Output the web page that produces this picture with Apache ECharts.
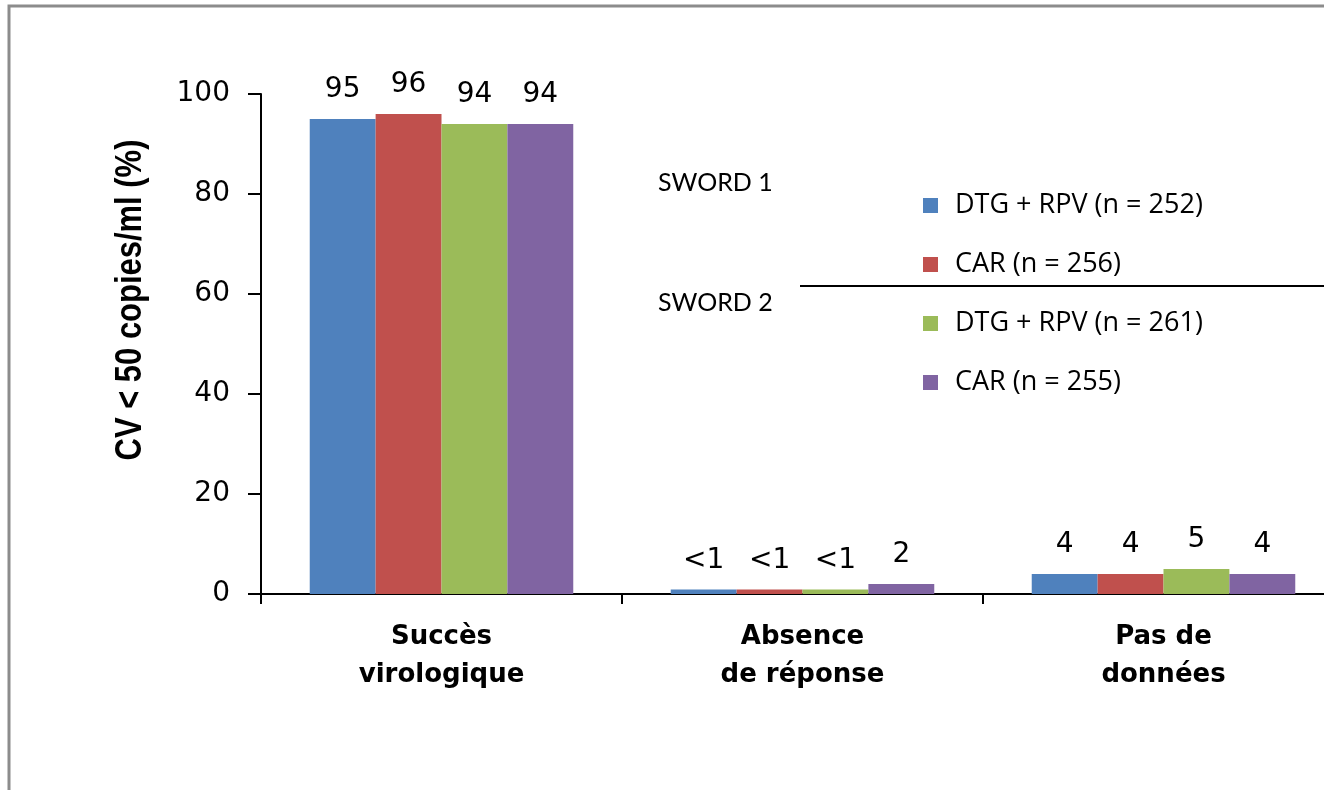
<!DOCTYPE html>
<html>
<head>
<meta charset="utf-8">
<script src="https://cdn.jsdelivr.net/npm/echarts@6/dist/echarts.min.js"></script>
<style>
  html, body { margin: 0; padding: 0; background: #ffffff; overflow: hidden; }
  #chart { width: 1324px; height: 790px; }
</style>
</head>
<body>
<div id="chart"></div>
<script>
// Virological outcomes at week 48, SWORD 1 and SWORD 2
const categories = ['Succès\nvirologique', 'Absence\nde réponse', 'Pas de\ndonnées'];
const seriesNames = ['DTG + RPV (n = 252)', 'CAR (n = 256)', 'DTG + RPV (n = 261)', 'CAR (n = 255)'];
const seriesColors = ['#4F81BD', '#C0504D', '#9BBB59', '#8064A2'];
const sword1Dtg = [95, 0.9, 4];
const sword1Car = [96, 0.9, 4];
const sword2Dtg = [94, 0.9, 5];
const sword2Car = [94, 2, 4];
const yTicks = [0, 20, 40, 60, 80, 100];

const seriesValues = [sword1Dtg, sword1Car, sword2Dtg, sword2Car];

const labelFont = 'DejaVu Sans, Verdana, sans-serif';

const chart = echarts.init(document.getElementById('chart'), null, { renderer: 'canvas' });

const series = seriesNames.map((name, i) => ({
  name: name,
  type: 'bar',
  data: seriesValues[i],
  barGap: '0%',
  barCategoryGap: '27%',
  itemStyle: { color: seriesColors[i] },
  label: {
    show: true,
    position: 'top',
    distance: 15,
    color: '#000',
    fontFamily: labelFont,
    fontSize: 28,
    formatter: p => (p.value < 1 ? '<1' : String(p.value))
  }
}));

chart.setOption({
  animation: false,
  backgroundColor: '#ffffff',
  grid: {
    left: 261, top: 94, right: -20, height: 500,
    containLabel: false,
    outerBoundsMode: 'none'
  },
  legend: {
    data: seriesNames,
    orient: 'vertical',
    left: 918,
    top: 187,
    itemWidth: 15,
    itemHeight: 15,
    itemGap: 32,
    icon: 'rect',
    textStyle: {
      fontFamily: 'Open Sans, DejaVu Sans, sans-serif',
      fontSize: 27,
      lineHeight: 26,
      color: '#000',
      padding: [0, 0, 0, 12]
    }
  },
  xAxis: {
    type: 'category',
    data: categories,
    axisLine: { lineStyle: { color: '#000', width: 2 } },
    axisTick: { show: true, length: 10, lineStyle: { color: '#000', width: 2 } },
    axisLabel: {
      margin: 24,
      fontFamily: 'DejaVu Sans, Verdana, sans-serif',
      fontWeight: 'bold',
      fontSize: 26,
      lineHeight: 38,
      color: '#000'
    }
  },
  yAxis: {
    type: 'value',
    min: 0,
    max: 100,
    interval: 20,
    splitLine: { show: false },
    axisLine: { show: true, lineStyle: { color: '#000', width: 2 } },
    axisTick: { show: true, length: 13, lineStyle: { color: '#000', width: 2 } },
    axisLabel: {
      margin: 31,
      fontFamily: labelFont,
      fontSize: 28,
      color: '#000',
      formatter: v => (yTicks.includes(v) ? String(v) : '')
    }
  },
  graphic: [
    {
      type: 'polyline',
      silent: true,
      shape: { points: [[9, 800], [9, 6], [1330, 6]] },
      style: { stroke: '#8c8c8c', lineWidth: 3, fill: null }
    },
    {
      type: 'line',
      silent: true,
      shape: { x1: 800, y1: 286, x2: 1324, y2: 286 },
      style: { stroke: '#000', lineWidth: 2 }
    },
    {
      type: 'text',
      silent: true,
      x: 658, y: 183,
      style: { text: 'SWORD 1', fontFamily: 'Lato, Open Sans, sans-serif', fontSize: 25, fill: '#000', textVerticalAlign: 'middle' }
    },
    {
      type: 'text',
      silent: true,
      x: 658, y: 303,
      style: { text: 'SWORD 2', fontFamily: 'Lato, Open Sans, sans-serif', fontSize: 25, fill: '#000', textVerticalAlign: 'middle' }
    },
    {
      type: 'text',
      silent: true,
      x: 131, y: 300,
      rotation: Math.PI / 2,
      scaleX: 0.86,
      style: {
        text: 'CV < 50 copies/ml (%)',
        fontFamily: 'Liberation Sans, Arial, sans-serif',
        fontWeight: 'bold',
        fontSize: 36,
        fill: '#000',
        textAlign: 'center',
        textVerticalAlign: 'middle'
      }
    }
  ],
  series: series
});
</script>
</body>
</html>
